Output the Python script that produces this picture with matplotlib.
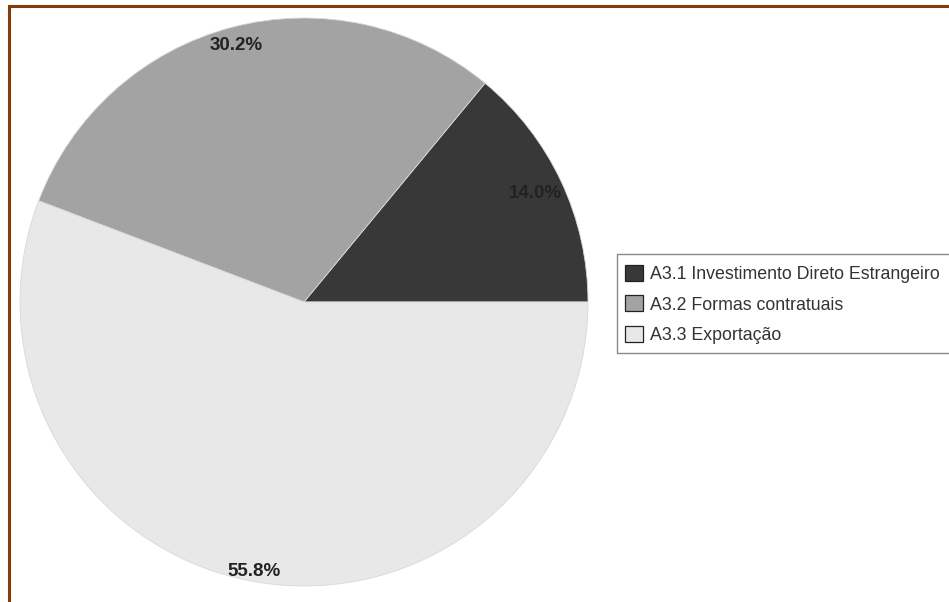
import matplotlib.pyplot as plt
import numpy as np
from matplotlib.patches import Rectangle, Patch

plt.rcParams['font.family'] = ['Liberation Sans', 'DejaVu Sans']

# Share of internationalisation modes
labels = ['A3.1 Investimento Direto Estrangeiro', 'A3.2 Formas contratuais', 'A3.3 Exportação']
shares = [14.0, 30.2, 55.8]
colors = ['#383838', '#a3a3a3', '#e8e8e8']
label_radius = [0.90, 0.935, 0.965]

W, H = 949, 602
fig = plt.figure(figsize=(W / 100, H / 100), dpi=100)

# brown frame that runs off the right and bottom edges
fig.patches.append(Rectangle((9 / W, -0.1), 1.2, (H - 5.5) / H + 0.1,
                             transform=fig.transFigure, fill=False,
                             edgecolor='#843c0c', linewidth=2.2))

cx, cy, r = 304, 302, 284
ax = fig.add_axes([(cx - r) / W, (H - cy - r) / H, 2 * r / W, 2 * r / H])
wedges, _ = ax.pie(shares, colors=colors, startangle=0, counterclock=True,
                   radius=1, wedgeprops=dict(linewidth=0.6, edgecolor='#d8d8d8'))
ax.set_xlim(-1, 1)
ax.set_ylim(-1, 1)
ax.set_aspect('auto')
ax.axis('off')

# percentage labels placed along each wedge's mid angle
start = 0.0
for val, rr in zip(shares, label_radius):
    mid = np.deg2rad(start + val * 3.6 / 2)
    ax.text(rr * np.cos(mid), rr * np.sin(mid), f'{val:.1f}%',
            ha='center', va='center', fontsize=13.5, fontweight='bold', color='#222222')
    start += val * 3.6

# legend box is cut off by the right edge, so draw its frame separately
fig.patches.append(Rectangle((617 / W, (H - 353) / H), 0.5, 99 / H,
                             transform=fig.transFigure, facecolor='white',
                             edgecolor='#8a8a8a', linewidth=1.0, zorder=0))
handles = [Patch(facecolor=c, edgecolor='#222222', linewidth=0.9) for c in colors]
leg = fig.legend(handles, labels, loc='lower left',
                 bbox_to_anchor=(617 / W, (H - 352) / H),
                 frameon=False, fontsize=12.8,
                 handlelength=1.0, handleheight=1.0, handletextpad=0.4,
                 labelspacing=0.7, borderpad=0.45, borderaxespad=0)
for t in leg.get_texts():
    t.set_color('#333333')

fig.savefig('out.png', dpi=100)
